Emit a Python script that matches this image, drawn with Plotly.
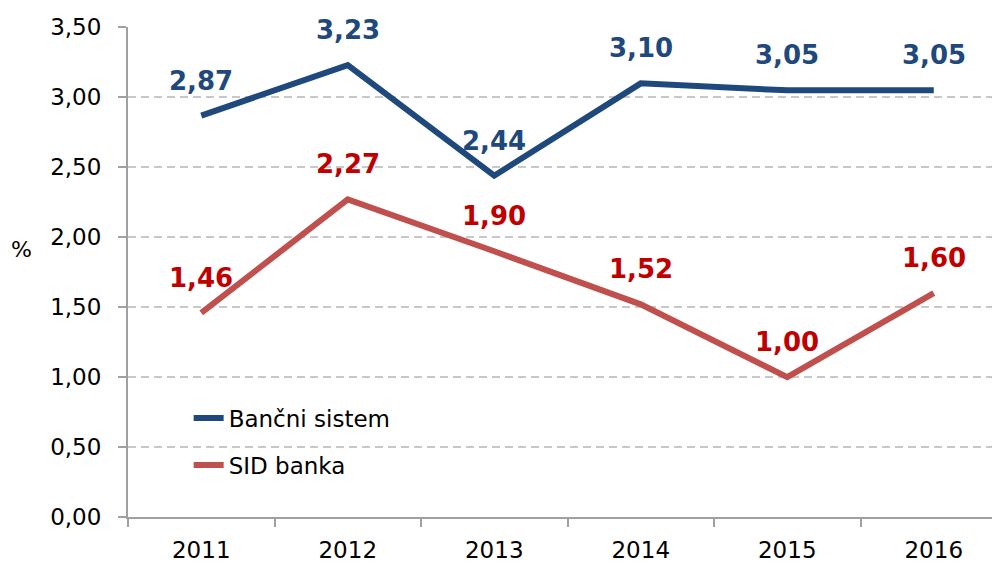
import plotly.graph_objects as go

years = ["2011", "2012", "2013", "2014", "2015", "2016"]
bancni = [2.87, 3.23, 2.44, 3.10, 3.05, 3.05]
sid = [1.46, 2.27, 1.90, 1.52, 1.00, 1.60]
y_ticks = [0, 0.5, 1.0, 1.5, 2.0, 2.5, 3.0, 3.5]

BLUE = "#1F497D"
RED_LINE = "#C0504D"
RED_TEXT = "#C00000"
FONT = "DejaVu Sans"

fig = go.Figure()
fig.add_trace(go.Scatter(x=years, y=bancni, mode="lines", name="Bančni sistem",
                         line=dict(color=BLUE, width=6), legend="legend"))
fig.add_trace(go.Scatter(x=years, y=sid, mode="lines", name="SID banka",
                         line=dict(color=RED_LINE, width=6), legend="legend2"))

for ys, col in [(bancni, BLUE), (sid, RED_TEXT)]:
    for i, yv in enumerate(ys):
        fig.add_annotation(x=i, y=yv, text=f"{yv:.2f}".replace(".", ","),
                           showarrow=False, yshift=35,
                           font=dict(family=FONT, size=26, color=col, weight="bold"))

fig.add_annotation(xref="paper", yref="paper", x=-0.1206, y=0.545, text="%",
                   showarrow=False, xanchor="center", yanchor="middle",
                   font=dict(family=FONT, size=22, color="black"))

leg_common = dict(xanchor="left", yanchor="middle",
                  font=dict(family=FONT, size=23, color="black"),
                  bgcolor="rgba(0,0,0,0)")
fig.update_layout(
    width=1000, height=562,
    margin=dict(l=120, r=1, t=19, b=53),
    paper_bgcolor="white", plot_bgcolor="white",
    separators=",.",
    font=dict(family=FONT, size=20, color="black"),
    showlegend=True,
    legend=dict(x=0.069, y=0.202, **leg_common),
    legend2=dict(x=0.069, y=0.106, **leg_common),
)
fig.update_xaxes(type="category", range=[-0.5, 5.5], showline=True,
                 linecolor="#A0A0A0", linewidth=2, ticks="outside",
                 tickson="boundaries", ticklen=8, tickcolor="#A0A0A0",
                 tickwidth=2, showgrid=False, ticklabelstandoff=11,
                 tickfont=dict(family=FONT, size=23, color="black"))
fig.update_yaxes(range=[0, 3.503], tickvals=y_ticks, tickformat=".2f",
                 showline=True, linecolor="#A0A0A0", linewidth=2,
                 ticks="outside", ticklen=8, tickcolor="#A0A0A0", tickwidth=2,
                 showgrid=True, gridcolor="#C8C8C8", griddash="8px,5px", gridwidth=2,
                 zeroline=False, ticklabelstandoff=12,
                 tickfont=dict(family=FONT, size=23, color="black"))

fig.write_html("out.html")
